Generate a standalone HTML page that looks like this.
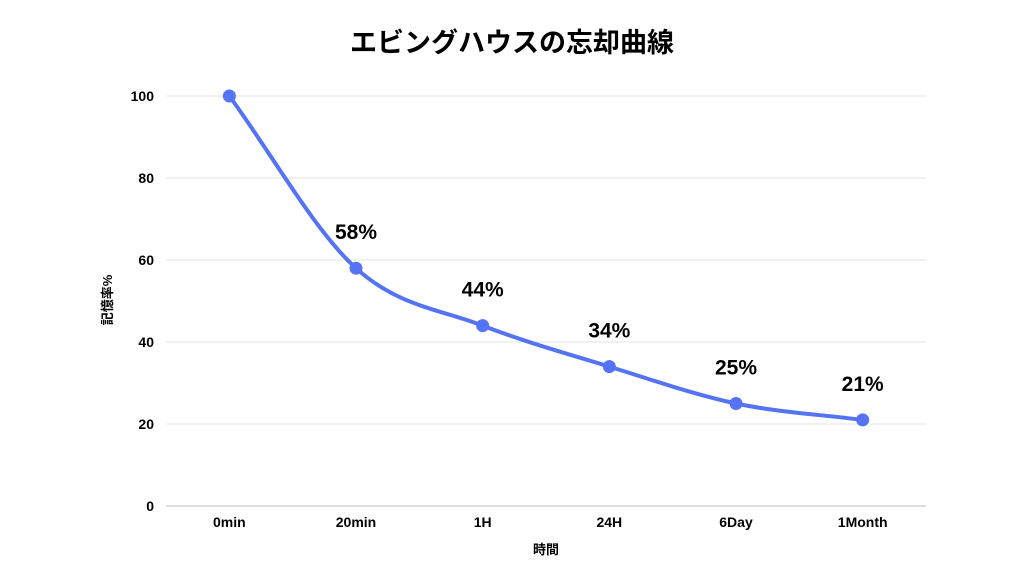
<!DOCTYPE html>
<html><head><meta charset="utf-8"><style>
body{margin:0;background:#fff;}
svg text{font-family:"Liberation Sans","Noto Sans CJK JP",sans-serif;}
</style></head><body>
<svg width="1024" height="576" viewBox="0 0 1024 576">
<text x="512" y="52" text-anchor="middle" font-size="27" font-weight="bold" fill="#000">エビングハウスの忘却曲線</text>
<g id="grid"></g><g id="yt"></g><g id="xt"></g>
<text x="0" y="0" transform="translate(112,300) rotate(-90)" text-anchor="middle" font-size="13" font-weight="bold">記憶率%</text>
<text x="546" y="554" text-anchor="middle" font-size="13" font-weight="bold">時間</text>
<path id="line" fill="none" stroke="#5473f5" stroke-width="4"></path>
<g id="pts"></g><g id="lbls"></g>
</svg>
<script>
const categories=["0min","20min","1H","24H","6Day","1Month"];
const values=[100,58,44,34,25,21];
const labels=[null,"58%","44%","34%","25%","21%"];
const yTicks=[0,20,40,60,80,100];
const L=166,R=926,T=96,B=506;
const bw=(R-L)/categories.length;
const x=i=>L+bw*(i+0.5);
const y=v=>B-(v/100)*(B-T);
const ns="http://www.w3.org/2000/svg";
function mk(t,a,p){const e=document.createElementNS(ns,t);for(const k in a)e.setAttribute(k,a[k]);p.appendChild(e);return e;}
const g=document.getElementById('grid'),yt=document.getElementById('yt'),xt=document.getElementById('xt');
yTicks.forEach(v=>{
 const l=mk('line',{x1:L,x2:R,y1:y(v),y2:y(v),stroke:v===0?'#bbb':'#e3e3e3','stroke-width':1},g);
 
 
 const t=mk('text',{x:L-12,y:y(v)+5,'text-anchor':'end','font-size':14,'font-weight':'bold'},yt);
 t.textContent=v;
 
 
});
categories.forEach((c,i)=>{
 const t=mk('text',{x:x(i),y:527,'text-anchor':'middle','font-size':14,'font-weight':'bold'},xt);
 t.textContent=c;
 
 
});
// monotone cubic
const P=values.map((v,i)=>[x(i),y(v)]);
const n=P.length,d=[],m=[];
for(let i=0;i<n-1;i++)d.push((P[i+1][1]-P[i][1])/(P[i+1][0]-P[i][0]));
m[0]=d[0];m[n-1]=d[n-2];
for(let i=1;i<n-1;i++)m[i]=d[i-1]*d[i]<=0?0:(d[i-1]+d[i])/2;
let s=`M${P[0][0]},${P[0][1]}`;
for(let i=0;i<n-1;i++){const h=(P[i+1][0]-P[i][0])/3;
 s+=` C${P[i][0]+h},${P[i][1]+m[i]*h} ${P[i+1][0]-h},${P[i+1][1]-m[i+1]*h} ${P[i+1][0]},${P[i+1][1]}`;}
document.getElementById('line').setAttribute('d',s);
const pts=document.getElementById('pts'),lb=document.getElementById('lbls');
values.forEach((v,i)=>{
 const c=mk('circle',{cx:x(i),cy:y(v),r:6.5,fill:'#5473f5'},pts);
 
 
 if(labels[i]){const t=mk('text',{x:x(i),y:y(v)-29,'text-anchor':'middle','font-size':21,'font-weight':'bold'},lb);
 t.textContent=labels[i];
 
 }
});
</script>
</body></html>
